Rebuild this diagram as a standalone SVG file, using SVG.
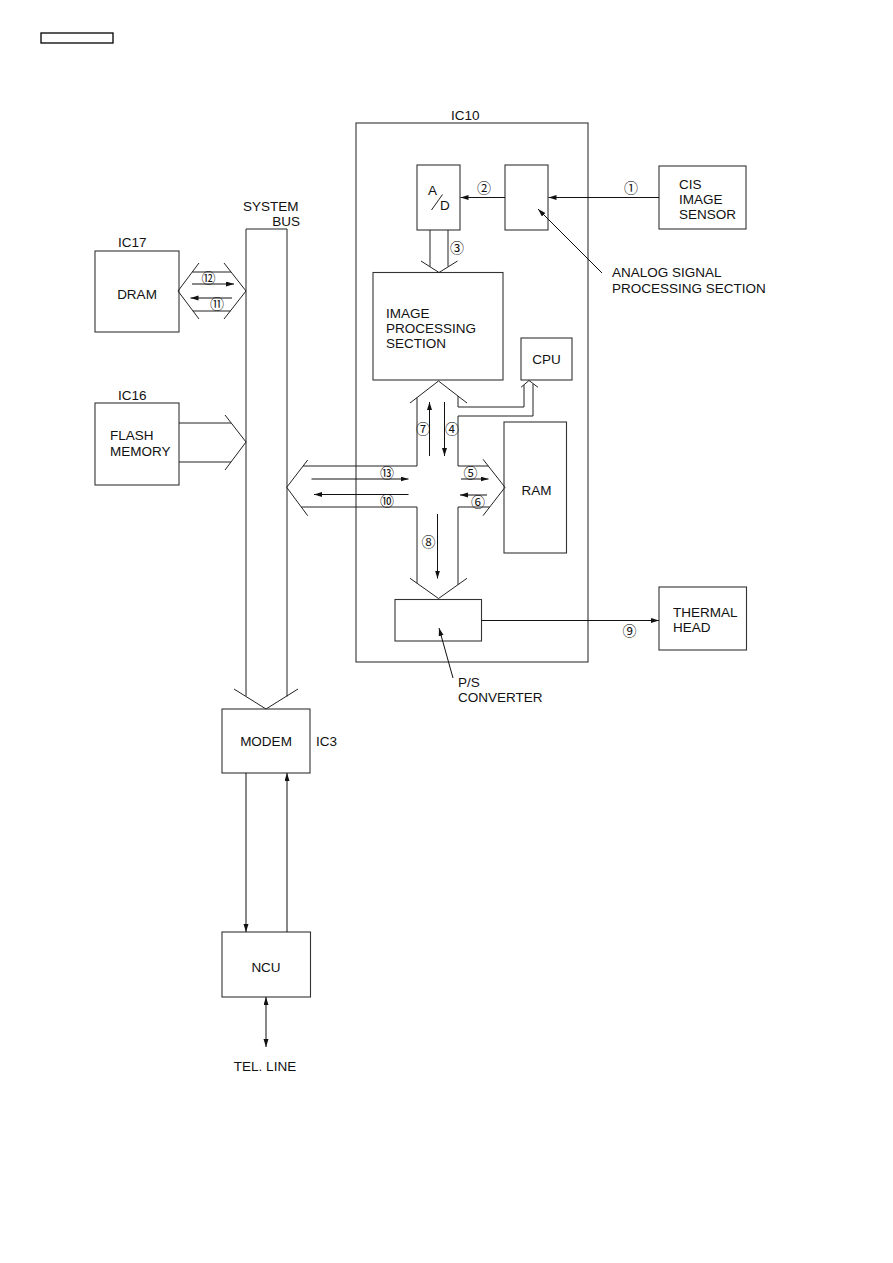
<svg xmlns="http://www.w3.org/2000/svg" width="893" height="1263" viewBox="0 0 893 1263">
<defs>
<marker id="ah" markerUnits="userSpaceOnUse" markerWidth="9" markerHeight="6" refX="8" refY="2.5" orient="auto-start-reverse"><path d="M0,0 L8,2.5 L0,5 z" fill="#111"/></marker>
<style>
.box{fill:none;stroke:#333;stroke-width:1.1}
.ln{fill:none;stroke:#222;stroke-width:1}
.ar{fill:none;stroke:#111;stroke-width:1;marker-end:url(#ah)}
.t{font-family:"Liberation Sans",Arial,sans-serif;font-size:13.5px;fill:#111}
.n{font-family:"Noto Sans CJK JP","Noto Sans CJK SC",sans-serif;font-size:14px;fill:#111;text-anchor:middle}
.m{text-anchor:middle}
</style>
</defs>
<rect width="893" height="1263" fill="#fff"/>
<rect x="41" y="33" width="72" height="10" fill="none" stroke="#000" stroke-width="1.3"/>

<g id="ic10">
<rect class="box" x="356" y="123" width="232" height="539"/>
<text class="t" x="451" y="120">IC10</text>
</g>
<g id="ad">
<rect class="box" x="417" y="165" width="43" height="65"/>
<text class="t" x="428" y="195">A</text>
<line class="ln" x1="431.5" y1="210" x2="442.5" y2="194.5"/>
<text class="t" x="440" y="210">D</text>
</g>
<g id="analog">
<rect class="box" x="505" y="165" width="43" height="65"/>
<text class="t" x="612" y="277">ANALOG SIGNAL</text>
<text class="t" x="612" y="293">PROCESSING SECTION</text>
</g>
<g id="cis">
<rect class="box" x="659" y="166" width="87" height="63"/>
<text class="t" x="679" y="189">CIS</text>
<text class="t" x="679" y="204">IMAGE</text>
<text class="t" x="679" y="219">SENSOR</text>
</g>
<g id="imgproc">
<rect class="box" x="373" y="272.5" width="130" height="107.5"/>
<text class="t" x="386" y="318">IMAGE</text>
<text class="t" x="386" y="333">PROCESSING</text>
<text class="t" x="386" y="348">SECTION</text>
</g>
<g id="cpu">
<rect class="box" x="521" y="338" width="51" height="42"/>
<text class="t m" x="546.5" y="364">CPU</text>
</g>
<g id="ram">
<rect class="box" x="504" y="422" width="62.5" height="131"/>
<text class="t m" x="536.5" y="495">RAM</text>
</g>
<g id="ps">
<rect class="box" x="395" y="599.5" width="86.5" height="41.5"/>
<text class="t" x="458" y="687">P/S</text>
<text class="t" x="458" y="702">CONVERTER</text>
</g>
<g id="thermal">
<rect class="box" x="659" y="587" width="87.5" height="63"/>
<text class="t" x="673" y="617">THERMAL</text>
<text class="t" x="673" y="632">HEAD</text>
</g>
<g id="dram">
<rect class="box" x="95" y="251" width="84" height="81"/>
<text class="t" x="118" y="247">IC17</text>
<text class="t m" x="137" y="299">DRAM</text>
</g>
<g id="flash">
<rect class="box" x="95" y="403" width="84" height="82"/>
<text class="t" x="118" y="400">IC16</text>
<text class="t" x="110" y="440">FLASH</text>
<text class="t" x="110" y="456">MEMORY</text>
</g>
<g id="sysbus">
<polyline class="ln" points="246,696 246,229 287,229 287,696.5"/>
<polyline class="ln" points="234,689 266,709 298,689"/>
<text class="t" x="243" y="211">SYSTEM</text>
<text class="t" x="300" y="226" text-anchor="end">BUS</text>
</g>
<g id="modem">
<rect class="box" x="222" y="709" width="88" height="64"/>
<text class="t m" x="266" y="746">MODEM</text>
<text class="t" x="316" y="746">IC3</text>
</g>
<g id="ncu">
<rect class="box" x="222" y="932" width="88.5" height="65"/>
<text class="t m" x="266" y="972">NCU</text>
<text class="t m" x="265" y="1071">TEL. LINE</text>
</g>

<g id="connectors">
<line class="ar" x1="659" y1="197.5" x2="548.5" y2="197.5"/>
<line class="ar" x1="505" y1="197.5" x2="460.5" y2="197.5"/>
<line class="ar" x1="602" y1="273" x2="538" y2="209"/>
<polyline class="ln" points="430,230 430,266.5"/>
<polyline class="ln" points="448,230 448,266.5"/>
<polyline class="ln" points="421,261 439,272.5 457.5,261"/>
<polyline class="ln" points="199,263 178,291 199,319"/>
<polyline class="ln" points="224,263 246,291 224,319"/>
<line class="ln" x1="192.3" y1="272" x2="231" y2="272"/>
<line class="ln" x1="192.8" y1="311" x2="230.5" y2="311"/>
<line class="ar" x1="192" y1="284" x2="234" y2="284"/>
<line class="ar" x1="232" y1="298" x2="190.5" y2="298"/>
<line class="ln" x1="179" y1="423" x2="231" y2="423"/>
<line class="ln" x1="179" y1="462" x2="231" y2="462"/>
<polyline class="ln" points="225,415 246,442 225,470"/>
<polyline class="ln" points="410,403 438.5,381 467,403"/>
<polyline class="ln" points="417,397.6 417,466 303,466"/>
<polyline class="ln" points="307.7,460 286.7,487.3 307.7,515.7"/>
<polyline class="ln" points="301.3,507 417,507 417,583.3"/>
<polyline class="ln" points="410,578.3 438.5,598.5 467,578.3"/>
<polyline class="ln" points="458,584.7 458,507 489.7,507"/>
<polyline class="ln" points="483,459.3 505,487.3 483,515.7"/>
<polyline class="ln" points="488.3,466 458,466 458,416 533,416 533,384"/>
<polyline class="ln" points="521,387.3 529,380.5 538,387.3"/>
<polyline class="ln" points="524,385 524,407 458,407 458,396"/>
<line class="ar" x1="429.5" y1="456" x2="429.5" y2="402"/>
<line class="ar" x1="444.5" y1="402" x2="444.5" y2="456"/>
<line class="ar" x1="311.5" y1="479" x2="408.5" y2="479"/>
<line class="ar" x1="408.5" y1="494.5" x2="314" y2="494.5"/>
<line class="ar" x1="461" y1="479" x2="488.5" y2="479"/>
<line class="ar" x1="487" y1="495" x2="460" y2="495"/>
<line class="ar" x1="437.5" y1="514" x2="437.5" y2="578.5"/>
<line class="ar" x1="481.5" y1="620.5" x2="659" y2="620.5"/>
<line class="ar" x1="453" y1="678" x2="439" y2="628"/>
<line class="ar" x1="246" y1="773" x2="246" y2="932"/>
<line class="ar" x1="287" y1="932" x2="287" y2="773"/>
<line class="ar" x1="266" y1="997" x2="266" y2="1047" style="marker-start:url(#ah)"/>
</g>
<g id="labels">
<text class="n" x="631" y="193">①</text>
<text class="n" x="484" y="193">②</text>
<text class="n" x="457" y="253">③</text>
<text class="n" x="452" y="434">④</text>
<text class="n" x="470.5" y="478">⑤</text>
<text class="n" x="478" y="506.5">⑥</text>
<text class="n" x="423" y="434">⑦</text>
<text class="n" x="428.5" y="547">⑧</text>
<text class="n" x="629.5" y="635.5">⑨</text>
<text class="n" x="387" y="506">⑩</text>
<text class="n" x="217" y="309">⑪</text>
<text class="n" x="208.5" y="283">⑫</text>
<text class="n" x="387" y="478">⑬</text>
</g>
</svg>
